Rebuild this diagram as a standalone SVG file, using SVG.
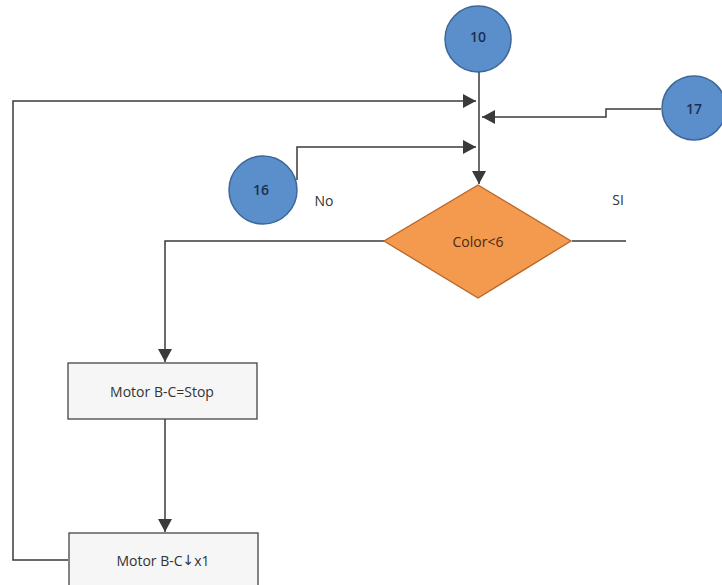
<svg xmlns="http://www.w3.org/2000/svg" width="722" height="585" viewBox="0 0 722 585">
<style>
.ln{fill:none;stroke:#3a3a3a;stroke-width:1.5}
.circ{fill:#5b8fcc;stroke:#3d6796;stroke-width:1.5}
.ct{font-family:"Open Sans","Liberation Sans",sans-serif;font-size:14px;font-weight:600;fill:#1c2f52;text-anchor:middle;dominant-baseline:central}
.t{font-family:"Open Sans","Liberation Sans",sans-serif;font-size:14px;fill:#333;text-anchor:middle;dominant-baseline:central}
.box{fill:#f6f6f6;stroke:#444;stroke-width:1.3}
</style>
<defs>
<marker id="ah" markerWidth="14" markerHeight="14" refX="13" refY="7" orient="auto" markerUnits="userSpaceOnUse">
<path d="M0,0 L13,7 L0,14 Z" fill="#3a3a3a"/>
</marker>
</defs>
<rect width="722" height="585" fill="#fff"/>
<g id="connectors">
<path class="ln" d="M479,72 V184" marker-end="url(#ah)"/>
<path class="ln" d="M68,560 H13 V101 H476" marker-end="url(#ah)"/>
<path class="ln" d="M661,109 H606 V117 H482" marker-end="url(#ah)"/>
<path class="ln" d="M297,180 V147 H476" marker-end="url(#ah)"/>
<path class="ln" d="M572,241 H626"/>
<path class="ln" d="M384,241 H165 V362" marker-end="url(#ah)"/>
<path class="ln" d="M165,419 V532" marker-end="url(#ah)"/>
</g>
<g id="n10"><circle class="circ" cx="478" cy="39" r="33"/><text class="ct" x="478" y="36">10</text></g>
<g id="n17"><circle class="circ" cx="694" cy="108" r="32"/><text class="ct" x="694" y="108">17</text></g>
<g id="n16"><circle class="circ" cx="263" cy="190" r="34"/><text class="ct" x="261" y="189">16</text></g>
<g id="labelNo"><text class="t" x="324" y="200">No</text></g>
<g id="labelSI"><text class="t" x="618" y="199">SI</text></g>
<g id="decision"><polygon points="478,185 571,241 478,298 384,241" fill="#f39a4e" stroke="#b8662a" stroke-width="1.3"/><text class="t" x="478" y="241" style="fill:#4a2a10">Color&lt;6</text></g>
<g id="stop"><rect class="box" x="68" y="363" width="189" height="56"/><text class="t" x="162" y="391">Motor B-C=Stop</text></g>
<g id="motor"><rect class="box" x="69" y="533" width="189" height="60"/><text class="t" x="163" y="560">Motor B-C<tspan style="font-family:'DejaVu Sans',sans-serif">↓</tspan>x1</text></g>
</svg>
